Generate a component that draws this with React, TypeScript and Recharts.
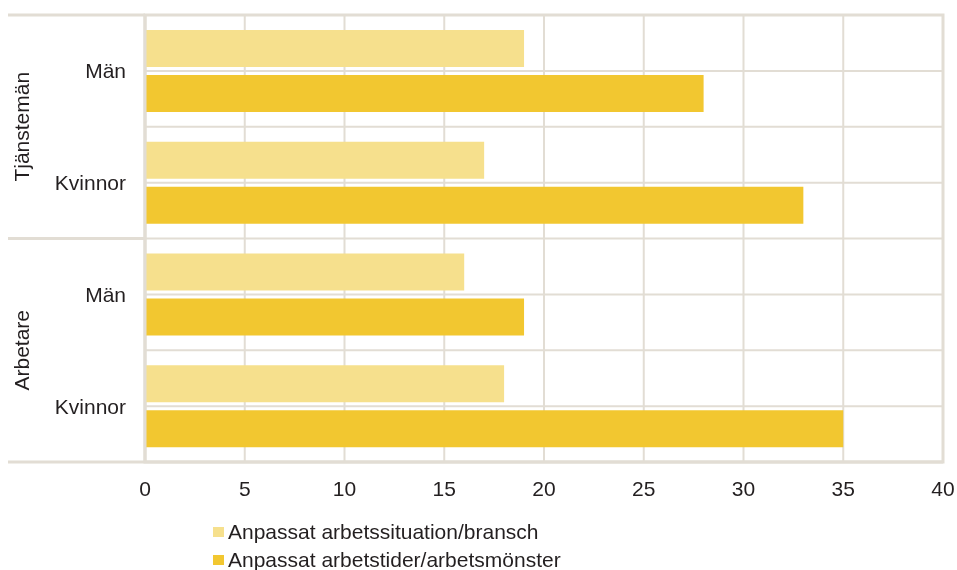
import React from "react";
import { BarChart, Bar, XAxis, YAxis, CartesianGrid, ReferenceArea } from "recharts";

const groups = ["Tjänstemän", "Tjänstemän", "Arbetare", "Arbetare"];
const subgroups = ["Män", "Kvinnor", "Män", "Kvinnor"];
const situation = [19, 17, 16, 18];
const workTime = [28, 33, 19, 35];
const xTicks = [0, 5, 10, 15, 20, 25, 30, 35, 40];
const seriesNames = ["Anpassat arbetssituation/bransch", "Anpassat arbetstider/arbetsmönster"];
const seriesKeys = ["situation", "workTime"];
const seriesColors = ["#f6e08d", "#f2c730"];

const data = subgroups.map((s, i) => ({
  key: `${groups[i]}|${s}`,
  group: groups[i],
  label: s,
  situation: situation[i],
  workTime: workTime[i],
}));

const W = 957;
const H = 570;
const MARGIN = { top: 15, right: 14, bottom: 78, left: 0 };
const X_AXIS_H = 30;
const PLOT_LEFT = 145;
const GRID = "#e2ddd4";
const TEXT = "#231f20";
const FONT = "'Liberation Sans', Arial, sans-serif";
const FONT_SIZE = 21;

const YTick = (props: any) => {
  const { y, payload } = props;
  const i = payload?.index ?? props.index ?? 0;
  const plotH = H - MARGIN.top - MARGIN.bottom - X_AXIS_H;
  const half = payload?.offset || plotH / data.length / 2;
  const row = data[i];
  const top = y - half;
  const bottom = y + half;
  const first = i === 0 || data[i - 1].group !== row.group;
  const last = i === data.length - 1;
  const count = data.filter((d) => d.group === row.group).length;
  const groupCenter = top + count * half;
  return (
    <g>
      <text x={PLOT_LEFT - 19} y={y} textAnchor="end" dominantBaseline="central" fill={TEXT} fontSize={FONT_SIZE} fontFamily={FONT}>
        {row.label}
      </text>
      {first && (
        <>
          <line x1={8} x2={PLOT_LEFT} y1={top} y2={top} stroke={GRID} strokeWidth={3} />
          <text
            x={21}
            y={groupCenter}
            textAnchor="middle"
            dominantBaseline="central"
            transform={`rotate(-90, 21, ${groupCenter})`}
            fill={TEXT}
            fontSize={FONT_SIZE}
            fontFamily={FONT}
          >
            {row.group}
          </text>
        </>
      )}
      {last && <line x1={8} x2={PLOT_LEFT} y1={bottom} y2={bottom} stroke={GRID} strokeWidth={3} />}
    </g>
  );
};

export default function App() {
  return (
    <div style={{ position: "fixed", left: 0, top: 0, width: W, height: H, fontFamily: FONT, overflow: "hidden" }}>
      <BarChart
        width={W}
        height={H}
        data={data}
        layout="vertical"
        margin={MARGIN}
        barCategoryGap={15}
        barGap={8}
      >
        <CartesianGrid
          stroke={GRID}
          strokeWidth={2}
          horizontalCoordinatesGenerator={({ offset }: any) => {
            const n = data.length * 2;
            return Array.from({ length: n + 1 }, (_, k) => offset.top + (offset.height * k) / n);
          }}
        />
        <XAxis
          type="number"
          domain={[0, 40]}
          ticks={xTicks}
          interval={0}
          height={X_AXIS_H}
          tickLine={false}
          tickMargin={13}
          axisLine={{ stroke: GRID, strokeWidth: 3 }}
          tick={{ fill: TEXT, fontSize: FONT_SIZE, fontFamily: FONT }}
        />
        <YAxis
          type="category"
          dataKey="key"
          width={PLOT_LEFT}
          interval={0}
          tickLine={false}
          axisLine={{ stroke: GRID, strokeWidth: 3 }}
          tick={<YTick />}
        />
        {seriesKeys.map((k, i) => (
          <Bar key={k} dataKey={k} name={seriesNames[i]} fill={seriesColors[i]} isAnimationActive={false} />
        ))}
        <ReferenceArea x1={0} x2={40} fill="none" fillOpacity={0} stroke={GRID} strokeWidth={3} ifOverflow="visible" />
      </BarChart>
      <div style={{ position: "absolute", left: 213, top: 518, fontSize: FONT_SIZE, color: TEXT, lineHeight: "28px" }}>
        {seriesNames.map((name, i) => (
          <div key={name} style={{ display: "flex", alignItems: "center", whiteSpace: "nowrap" }}>
            <span style={{ display: "inline-block", width: 11, height: 10, background: seriesColors[i], marginRight: 4 }} />
            <span>{name}</span>
          </div>
        ))}
      </div>
    </div>
  );
}
